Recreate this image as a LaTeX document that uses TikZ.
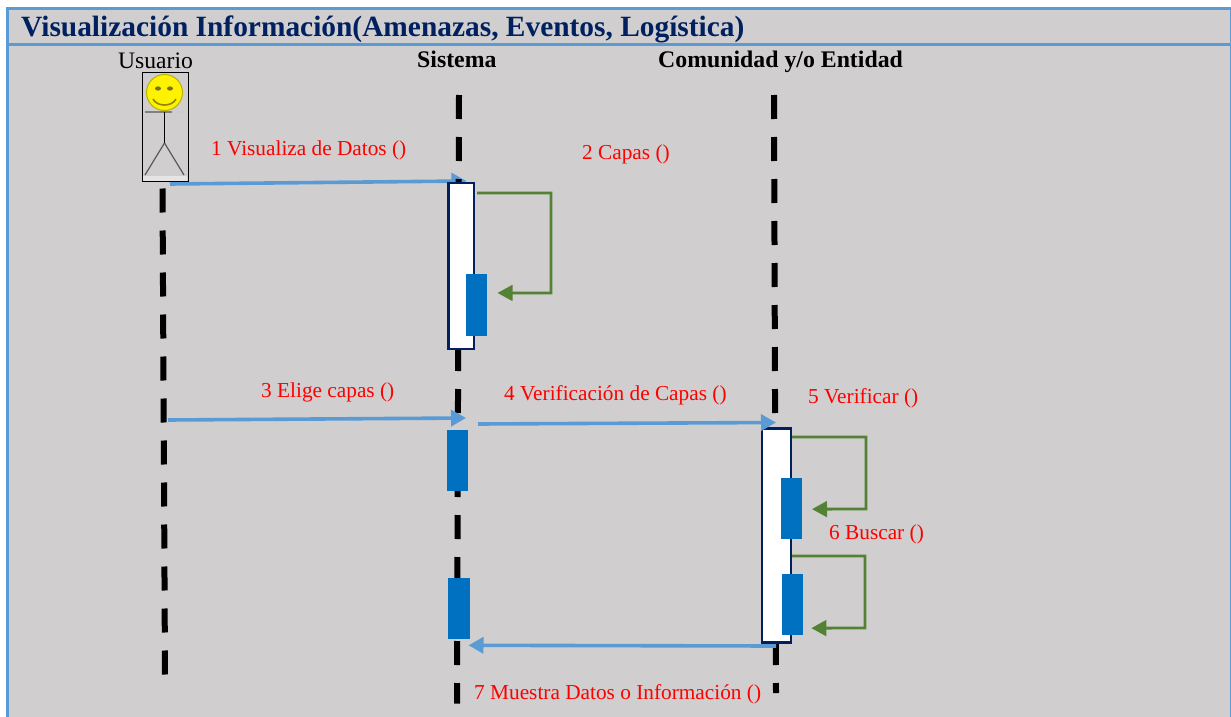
\documentclass[tikz,border=0pt]{standalone}
\usepackage{fontspec}
\setmainfont{Liberation Serif}
\usetikzlibrary{arrows.meta}
\definecolor{panel}{HTML}{D0CECE}
\definecolor{frameblue}{HTML}{5B9BD5}
\definecolor{navy}{HTML}{002060}
\definecolor{msgblue}{HTML}{5B9BD5}
\definecolor{loopgreen}{HTML}{548235}
\definecolor{execblue}{HTML}{0070C0}
\pgfdeclarelayer{bg}
\pgfsetlayers{bg,main}
\tikzset{
  frameline/.style={draw=frameblue,line width=3.3pt},
  lifeline/.style={draw=black,line width=6pt,dash pattern=on 24pt off 18pt},
  activation/.style={draw=navy,fill=white,line width=2.8pt,inner sep=0pt,outer sep=0pt,minimum width=#1,anchor=north west},
  exec/.style={fill=execblue,inner sep=0pt,outer sep=0pt,minimum width=21.3pt,minimum height=61.3pt,anchor=north west},
  msg/.style={draw=msgblue,line width=3.6pt,-{Triangle[length=15pt,width=16pt]}},
  selfloop/.style={draw=loopgreen,line width=2.8pt,-{Triangle[length=15pt,width=15.6pt]}},
  redlabel/.style={text=red,font=\fontsize{21.3}{25}\selectfont,anchor=base west,inner sep=0pt},
  headlabel/.style={text=black,font=\fontsize{23.8}{28}\selectfont\bfseries,anchor=base west,inner sep=0pt},
}
\begin{document}
\begin{tikzpicture}[x=1pt,y=-1pt]
\useasboundingbox (0,0) rectangle (1231,717);
\begin{pgfonlayer}{bg}
\fill[white] (0,0) rectangle (1231,717);
\fill[panel] (6,7) rectangle (1231,717);
\end{pgfonlayer}
\draw[frameline] (7.5,717) -- (7.5,8.5) -- (1231,8.5);
\draw[frameblue,line width=1.5pt] (1230.3,7) -- (1230.3,717);
\draw[frameline] (6,44.5) -- (1231,44.5);
\node[anchor=base west,inner sep=0pt,text=navy,font=\fontsize{29.4}{34}\selectfont\bfseries] (title) at (21,37) {Visualización Información(Amenazas, Eventos, Logística)};
\node[anchor=base west,inner sep=0pt,font=\fontsize{23.6}{28}\selectfont] (usuario) at (118,68) {Usuario};
\node[headlabel] (sistema) at (417,67) {Sistema};
\node[headlabel] (comunidad) at (658,67) {Comunidad y/o Entidad};
% actor
\node[draw=black,line width=1pt,inner sep=0pt,outer sep=0pt,minimum width=46pt,minimum height=108.5pt,anchor=north west] (actor) at (142,72.5) {};
\fill[gray!20] (143,176) rectangle (187,180.5);
\node[circle,draw=olive!60!yellow,fill=yellow,line width=1pt,inner sep=0pt,outer sep=0pt,minimum size=36pt] (face) at (164.5,92.5) {};
\fill[olive!80!black] (158,88.5) ellipse (3pt and 2.2pt);
\fill[olive!80!black] (170,88.5) ellipse (3pt and 2.2pt);
\draw[olive,line width=1.6pt] (153,99) .. controls (157,107) and (172,107) .. (176,99);
\draw[gray,line width=1.6pt] (145,112) -- (172,112);
\draw[gray!40,line width=1.6pt] (172,112) -- (184,112);
\draw[black,line width=1.5pt] (164.5,112) -- (164.5,143);
\draw[gray!70!black,line width=1.2pt] (164.5,143) -- (145,175);
\draw[gray!70!black,line width=1.2pt] (164.5,143) -- (184,175);
% activations
\node[activation=25.5pt,minimum height=166pt] (boxa) at (448.5,183) {};
\node[activation=29pt,minimum height=214pt] (boxb) at (762,428.5) {};
\node[exec] (execa) at (465.7,274.3) {};
\node[exec] (execb) at (780.7,478) {};
\node[exec] (execc) at (782,574) {};
\node[exec] (execd) at (446.7,430) {};
\node[exec] (exece) at (448.2,578) {};
% lifelines
\coordinate (u1) at (162.5,188.5);
\coordinate (u2) at (165,675);
\coordinate (s1) at (459,95);
\coordinate (s2) at (457,703.5);
\coordinate (c1) at (774,95);
\coordinate (c2) at (776,693);
\begin{pgfonlayer}{bg}
\draw[msg] ([shift={(-18,3)}]actor.south east) -- ([shift={(-7.5,-2)}]boxa.north east);
\draw[lifeline] (u1) -- (u2);
\draw[lifeline] (s1) -- (s2);
\draw[lifeline] (c1) -- (c2);
\end{pgfonlayer}
% messages
\coordinate (m3s) at (168,420);
\coordinate (m4s) at (478,424);
\draw[msg] (m3s) -- ([shift={(-2,-12)}]execd.north east);
\draw[msg] (m4s) -- ([shift={(-15,-6)}]boxb.north east);
\draw[msg] ([shift={(-15,3.5)}]boxb.south east) -- ([shift={(-1,6)}]exece.south east);
% self loops
\draw[selfloop] ([shift={(3,10)}]boxa.north east) -- ++(74,0) -- ++(0,100) -- ([shift={(10.5,-12)}]execa.east);
\draw[selfloop] ([shift={(1,8.5)}]boxb.north east) -- ++(74,0) -- ++(0,72) -- ([shift={(10,0.5)}]execb.east);
\draw[selfloop] ([shift={(1,-86.5)}]boxb.south east) -- ++(73,0) -- ++(0,72) -- ([shift={(8,23.5)}]execc.east);
% labels
\node[redlabel] (l1) at (211,155) {1 Visualiza de Datos ()};
\node[redlabel] (l2) at (582,159) {2 Capas ()};
\node[redlabel] (l3) at (261,397) {3 Elige capas ()};
\node[redlabel] (l4) at (504,400) {4 Verificación de Capas ()};
\node[redlabel] (l5) at (808,403) {5 Verificar ()};
\node[redlabel] (l6) at (829,539) {6 Buscar ()};
\node[redlabel] (l7) at (474,699) {7 Muestra Datos o Información ()};
\end{tikzpicture}
\end{document}
